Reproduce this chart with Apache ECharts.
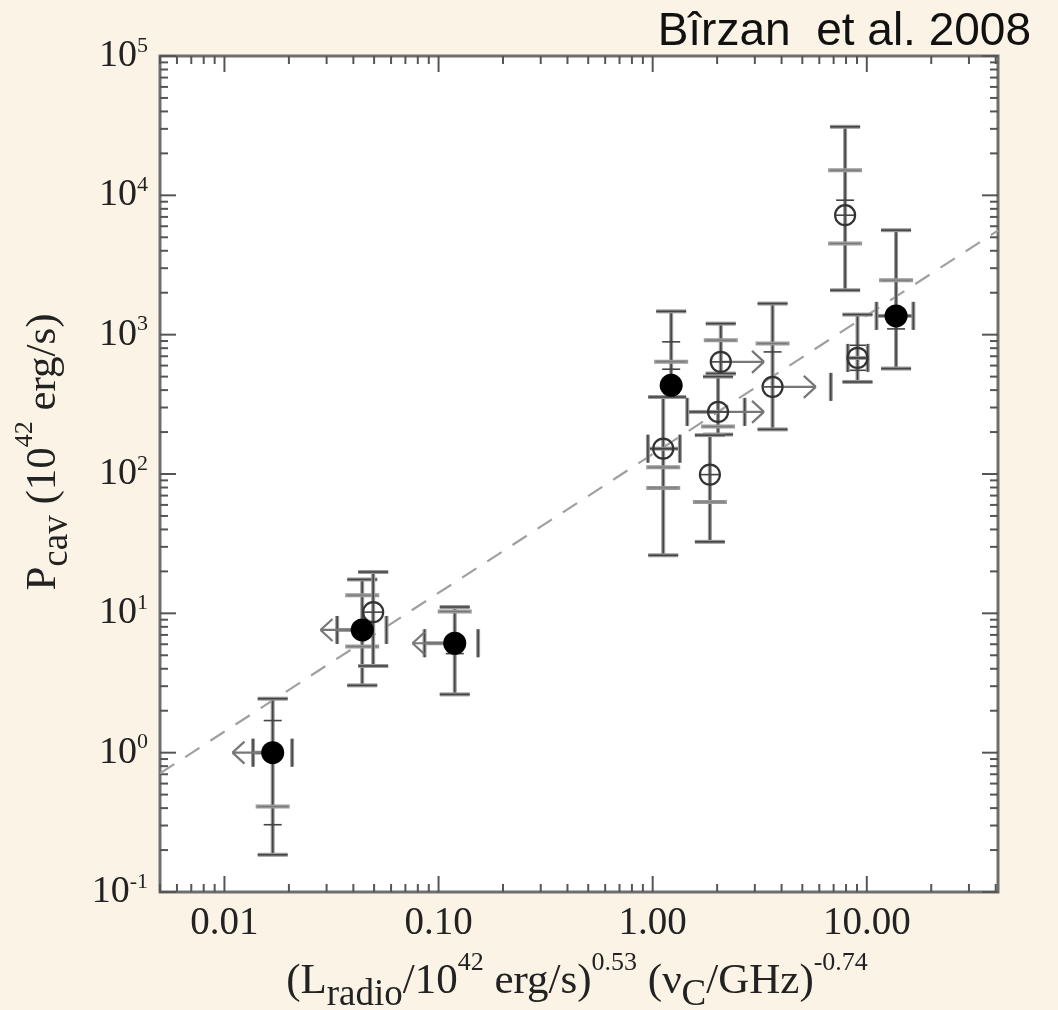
<!DOCTYPE html>
<html><head><meta charset="utf-8">
<script src="https://cdn.jsdelivr.net/npm/echarts@6/dist/echarts.min.js"></script>
<style>html,body{margin:0;padding:0;background:#FBF4E6}#c{width:1058px;height:1010px}</style>
</head><body><div id="c"></div>
<script>
// ---- data ----
const xVals   = [0.0168, 0.044, 0.0495, 0.119, 1.22, 1.12, 2.08, 2.02, 1.85, 3.63, 7.92, 13.7, 9.05];
const yVals   = [1.0, 7.6, 10.2, 6.1, 433, 152, 638, 279, 99, 422, 7200, 1364, 681];
const filled  = [1, 1, 0, 1, 1, 0, 0, 0, 0, 0, 0, 1, 0];
const yLo     = [0.185, 3.04, 4.19, 2.62, 357, 26.1, 526, 192, 32.6, 209, 2083, 571, 458];
const yHi     = [2.44, 17.5, 19.8, 11.1, 1470, 357, 1200, 500, 190, 1672, 31040, 5620, 1394];
const yCapsWide   = [[0.41], [13.5, 5.77], [], [10.3], [640], [112, 79.5], [912], [219], [63], [863], [4508, 15140], [2460], []];
const yCapsNarrow = [[1.70, 0.304], [], [], [5.14], [888, 565], [], [], [], [], [752], [9230], [1100], [555, 839]];
const xLo     = [0.0136, 0.0336, null, 0.086, null, 0.95, null, 1.45, null, null, null, 11.1, 8.15];
const xHi     = [0.0207, 0.0571, null, 0.153, null, 1.34, null, 2.69, null, 6.79, null, 16.5, 10.1];
const arrowTo = [0.0109, 0.0281, null, 0.0756, null, null, 3.31, 3.31, null, 5.78, null, null, null];
const fitX = [0.005, 41];
const fitY = [0.71, 5600];
const xMin = 0.005, xMax = 41, yMin = 0.1, yMax = 1e5;
const xMajorTicks = [0.01, 0.1, 1, 10];
const xTickLabels = ['0.01', '0.10', '1.00', '10.00'];
const yMajorTicks = [0.1, 1, 10, 100, 1000, 10000, 100000];
const yTickExps   = ['-1', '0', '1', '2', '3', '4', '5'];

// tick marks (major + minor at 2..9 of each decade)
const tickData = [];
[0.001, 0.01, 0.1, 1, 10].forEach(d => {
  for (let m = 1; m <= 9; m++) {
    const v = d * m;
    if (v >= xMin * 0.999 && v <= xMax * 1.001) tickData.push([v, yMin, 0, m === 1 ? 1 : 0]);
  }
});
[0.1, 1, 10, 100, 1000, 10000, 100000].forEach(d => {
  for (let m = 1; m <= 9; m++) {
    const v = d * m;
    if (v >= yMin * 0.999 && v <= yMax * 1.001) tickData.push([xMin, v, 1, m === 1 ? 1 : 0]);
  }
});

const chart = echarts.init(document.getElementById('c'), null, {renderer: 'canvas'});

function near(v, arr) {
  for (let k = 0; k < arr.length; k++) if (Math.abs(Math.log10(v) - Math.log10(arr[k])) < 1e-6) return k;
  return -1;
}

function renderTicks(params, api) {
  const v0 = api.value(0), v1 = api.value(1), ax = api.value(2), major = api.value(3);
  const len = major ? 16 : 8;
  const st = {stroke: '#555', lineWidth: 2};
  if (ax === 0) {
    const b = api.coord([v0, yMin]), t = api.coord([v0, yMax]);
    return {type: 'group', children: [
      {type: 'line', shape: {x1: b[0], y1: b[1], x2: b[0], y2: b[1] - len}, style: st},
      {type: 'line', shape: {x1: t[0], y1: t[1], x2: t[0], y2: t[1] + len}, style: st}
    ]};
  } else {
    const l = api.coord([xMin, v1]), r = api.coord([xMax, v1]);
    return {type: 'group', children: [
      {type: 'line', shape: {x1: l[0], y1: l[1], x2: l[0] + len, y2: l[1]}, style: st},
      {type: 'line', shape: {x1: r[0], y1: r[1], x2: r[0] - len, y2: r[1]}, style: st}
    ]};
  }
}

function renderErr(params, api) {
  const i = params.dataIndex;
  const c = api.coord([xVals[i], yVals[i]]);
  const ch = [];
  const gray = {stroke: '#999', lineWidth: 4};
  const dark = {stroke: '#444', lineWidth: 1.6};
  const seg = (x1, y1, x2, y2, s) => ch.push({type: 'line', shape: {x1, y1, x2, y2}, style: s});
  const both = (x1, y1, x2, y2) => { seg(x1, y1, x2, y2, gray); seg(x1, y1, x2, y2, dark); };
  // vertical error bar
  const lo = api.coord([xVals[i], yLo[i]]), hi = api.coord([xVals[i], yHi[i]]);
  both(c[0], lo[1], c[0], hi[1]);
  [lo[1], hi[1]].forEach(y => both(c[0] - 15, y, c[0] + 15, y));
  yCapsWide[i].forEach(v => { const p = api.coord([xVals[i], v]); seg(c[0] - 17, p[1], c[0] + 17, p[1], gray); seg(c[0] - 15, p[1], c[0] + 15, p[1], {stroke: '#777', lineWidth: 1}); });
  yCapsNarrow[i].forEach(v => { const p = api.coord([xVals[i], v]); seg(c[0] - 9, p[1], c[0] + 9, p[1], dark); });
  // horizontal error bar
  if (xLo[i] != null || xHi[i] != null) {
    const a = xLo[i] != null ? api.coord([xLo[i], yVals[i]])[0] : c[0];
    const b = xHi[i] != null ? api.coord([xHi[i], yVals[i]])[0] : c[0];
    if (xLo[i] != null) both(a, c[1], c[0], c[1]);
    if (xLo[i] != null) both(a, c[1] - 14, a, c[1] + 14);
    if (xHi[i] != null && arrowTo[i] == null) both(c[0], c[1], b, c[1]);
    if (xHi[i] != null) both(b, c[1] - 14, b, c[1] + 14);
  }
  // limit arrow
  if (arrowTo[i] != null) {
    const t = api.coord([arrowTo[i], yVals[i]])[0];
    const dir = t < c[0] ? 1 : -1;
    seg(c[0], c[1], t, c[1], {stroke: '#777', lineWidth: 2.2});
    seg(t, c[1], t + dir * 12, c[1] - 11, {stroke: '#777', lineWidth: 2.2});
    seg(t, c[1], t + dir * 12, c[1] + 11, {stroke: '#777', lineWidth: 2.2});
  }
  // cross inside open circles
  if (!filled[i]) seg(c[0] - 9, c[1], c[0] + 9, c[1], dark);
  return {type: 'group', children: ch};
}

const pts = xVals.map((x, i) => [x, yVals[i]]);
const serif = '"Liberation Serif", "DejaVu Serif", serif';
const richName = {
  m: {fontFamily: serif, fontSize: 43, lineHeight: 64, verticalAlign: 'middle', fill: '#222', color: '#222'},
  sp: {fontFamily: serif, fontSize: 26, lineHeight: 46, verticalAlign: 'top', fill: '#222', color: '#222'},
  sb: {fontFamily: serif, fontSize: 37, lineHeight: 34, verticalAlign: 'bottom', fill: '#222', color: '#222'}
};

chart.setOption({
  backgroundColor: '#FBF4E6',
  animation: false,
  grid: {left: 160, right: 60, top: 56, bottom: 118, show: true, backgroundColor: '#ffffff', borderColor: '#6e6e6e', borderWidth: 3},
  xAxis: {
    type: 'log', logBase: 10, min: xMin, max: xMax,
    axisLine: {show: false}, axisTick: {show: false}, splitLine: {show: false}, minorTick: {show: false},
    axisLabel: {
      margin: 12, fontFamily: serif, fontSize: 39, color: '#222', showMinLabel: false, showMaxLabel: false,
      formatter: v => { const k = near(v, xMajorTicks); return k >= 0 ? xTickLabels[k] : ''; }
    }
  },
  yAxis: {
    type: 'log', logBase: 10, min: yMin, max: yMax,
    axisLine: {show: false}, axisTick: {show: false}, splitLine: {show: false},
    axisLabel: {
      margin: 12, fontFamily: serif, color: '#222',
      formatter: v => { const k = near(v, yMajorTicks); return k >= 0 ? '{b|10}{s|' + yTickExps[k] + '}' : ''; },
      rich: {
        b: {fontFamily: serif, fontSize: 38, lineHeight: 42, color: '#222'},
        s: {fontFamily: serif, fontSize: 22, lineHeight: 22, verticalAlign: 'top', color: '#222'}
      }
    }
  },
  graphic: [
    {type: 'text', x: 1031, y: 32, style: {text: 'Bîrzan  et al. 2008', fontFamily: '"Liberation Sans", Arial, sans-serif', fontSize: 46, fill: '#111', align: 'right', verticalAlign: 'middle'}},
    {type: 'text', x: 577, y: 982, style: {
      text: '{m|(L}{sb|radio}{m|/10}{sp|42}{m| erg/s)}{sp|0.53}{m| (ν}{sb|C}{m|/GHz)}{sp|-0.74}',
      align: 'center', verticalAlign: 'middle', fill: '#222', rich: richName
    }},
    {type: 'text', x: 44, y: 452, rotation: Math.PI / 2, style: {
      text: '{m|P}{sb|cav}{m| (10}{sp|42}{m| erg/s)}',
      align: 'center', verticalAlign: 'middle', fill: '#222', rich: richName
    }}
  ],
  series: [
    {type: 'line', data: fitX.map((x, i) => [x, fitY[i]]), symbol: 'none', silent: true, z: 2,
     lineStyle: {color: '#a0a0a0', width: 2.2, type: [17, 13]}},
    {type: 'custom', data: tickData, renderItem: renderTicks, silent: true, z: 1, clip: false},
    {type: 'custom', data: pts, renderItem: renderErr, silent: true, z: 3},
    {type: 'scatter', data: pts.filter((p, i) => !filled[i]), symbol: 'circle', symbolSize: 20, silent: true, z: 4,
     itemStyle: {color: 'rgba(0,0,0,0)', borderColor: '#333', borderWidth: 2.2, opacity: 1}},
    {type: 'scatter', data: pts.filter((p, i) => filled[i]), symbol: 'circle', symbolSize: 23, silent: true, z: 5,
     itemStyle: {color: '#000', borderColor: '#000', borderWidth: 0, opacity: 1}}
  ]
});
</script></body></html>
